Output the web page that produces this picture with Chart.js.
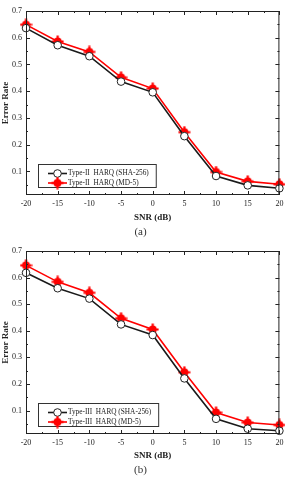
<!DOCTYPE html>
<html>
<head>
<meta charset="utf-8">
<script src="https://cdn.jsdelivr.net/npm/chart.js@4.4.0/dist/chart.umd.min.js"></script>
<style>
  body { margin: 0; background: #fff; }
  .box { position: absolute; left: 0; width: 285px; }
</style>
</head>
<body>
<div class="box" style="top:0;height:240px"><canvas id="chartA" width="285" height="240"></canvas></div>
<div class="box" style="top:240px;height:238px"><canvas id="chartB" width="285" height="238"></canvas></div>
<script>
// SNR (dB) on the x axis
var snr = [-20, -15, -10, -5, 0, 5, 10, 15, 20];
var yTicks = [0.1, 0.2, 0.3, 0.4, 0.5, 0.6, 0.7];
var xTicks = [-20, -15, -10, -5, 0, 5, 10, 15, 20];

// (a) Type-II
var labelsA = ['Type-II  HARQ (SHA-256)', 'Type-II  HARQ (MD-5)'];
var shaA = [0.636, 0.572, 0.531, 0.436, 0.396, 0.232, 0.083, 0.048, 0.037];
var md5A = [0.649, 0.586, 0.547, 0.452, 0.410, 0.247, 0.098, 0.063, 0.052];

// (b) Type-III
var labelsB = ['Type-III  HARQ (SHA-256)', 'Type-III  HARQ (MD-5)'];
var shaB = [0.618, 0.560, 0.521, 0.424, 0.384, 0.221, 0.069, 0.032, 0.024];
var md5B = [0.646, 0.584, 0.543, 0.447, 0.405, 0.244, 0.093, 0.055, 0.046];

var serif = '"Liberation Serif", "DejaVu Serif", serif';

// red marker: filled dot with short spikes
function redMarker() {
    var c = document.createElement('canvas');
    c.width = 13; c.height = 13;
    var g = c.getContext('2d');
    g.fillStyle = '#ff0000';
    g.strokeStyle = '#ff0000';
    g.beginPath();
    g.arc(6.5, 6.5, 4, 0, Math.PI * 2);
    g.fill();
    g.lineWidth = 2.2;
    g.beginPath();
    g.moveTo(6.5, 0.5); g.lineTo(6.5, 12.5);
    g.moveTo(0.5, 6.5); g.lineTo(12.5, 6.5);
    g.stroke();
    return c;
}
var redPt = redMarker();

var framePlugin = {
    id: 'frame',
    afterDatasetsDraw: function(chart) {
        var ctx = chart.ctx, a = chart.chartArea;
        var xs = chart.scales.x, ys = chart.scales.y;
        ctx.save();
        ctx.strokeStyle = '#222';
        ctx.lineWidth = 1;
        ctx.strokeRect(a.left + 0.5, a.top + 0.5, a.right - a.left - 1, a.bottom - a.top - 1);
        ctx.beginPath();
        // x ticks, major + minor, pointing in
        for (var v = -20; v <= 20; v += 2.5) {
            var px = Math.round(xs.getPixelForValue(v)) + 0.5;
            var len = (v % 5 === 0) ? 4 : 2;
            ctx.moveTo(px, a.bottom); ctx.lineTo(px, a.bottom - len);
            ctx.moveTo(px, a.top); ctx.lineTo(px, a.top + len);
        }
        for (var k = 1; k <= 14; k++) {
            var val = k * 0.05;
            var py = Math.round(ys.getPixelForValue(val)) + 0.5;
            var l2 = (k % 2 === 0) ? 4 : 2;
            ctx.moveTo(a.left, py); ctx.lineTo(a.left + l2, py);
            ctx.moveTo(a.right, py); ctx.lineTo(a.right - l2, py);
        }
        ctx.stroke();

        // legend inside the plot, lower left
        var ds = chart.data.datasets;
        ctx.font = '7.3px ' + serif;
        var w = 0;
        ds.forEach(function(d) { w = Math.max(w, ctx.measureText(d.label).width); });
        var bx = a.left + 12, by = a.bottom - 31, bw = w + 37, bh = 23;
        ctx.fillStyle = '#fff';
        ctx.fillRect(bx, by, bw, bh);
        ctx.strokeStyle = '#333';
        ctx.strokeRect(bx + 0.5, by + 0.5, bw, bh);
        ds.forEach(function(d, i) {
            var yy = by + 9.5 + i * 9.5;
            ctx.strokeStyle = d.borderColor;
            ctx.lineWidth = 1.6;
            ctx.beginPath();
            ctx.moveTo(bx + 10, yy); ctx.lineTo(bx + 29, yy);
            ctx.stroke();
            if (i === 0) {
                ctx.fillStyle = '#fff';
                ctx.strokeStyle = '#222';
                ctx.lineWidth = 1;
                ctx.beginPath();
                ctx.arc(bx + 19.5, yy, 3.8, 0, Math.PI * 2);
                ctx.fill(); ctx.stroke();
            } else {
                ctx.drawImage(redPt, bx + 13, yy - 6.5);
            }
            ctx.fillStyle = '#222';
            ctx.textBaseline = 'middle';
            ctx.fillText(d.label, bx + 30, yy);
        });
        ctx.restore();
    }
};

function makeChart(id, labels, sha, md5, caption, h, plotBottom) {
    var ctx = document.getElementById(id);
    return new Chart(ctx, {
        type: 'line',
        data: {
            labels: snr,
            datasets: [{
                label: labels[0],
                data: sha.map(function(v, i) { return {x: snr[i], y: v}; }),
                borderColor: '#1a1a1a',
                borderWidth: 1.6,
                pointStyle: 'circle',
                pointRadius: 3.8,
                pointBackgroundColor: '#fff',
                pointBorderColor: '#222',
                pointBorderWidth: 1,
                clip: false
            }, {
                label: labels[1],
                data: md5.map(function(v, i) { return {x: snr[i], y: v}; }),
                borderColor: '#ff0000',
                borderWidth: 1.6,
                pointStyle: redPt,
                clip: false
            }]
        },
        options: {
            responsive: false,
            animation: false,
            layout: { padding: { top: 11, right: 4, left: 0, bottom: 0 } },
            plugins: {
                legend: { display: false },
                tooltip: { enabled: false },
                title: {
                    display: true, text: caption, position: 'bottom',
                    color: '#333', font: { family: serif, size: 11, weight: 'normal', lineHeight: 1.2 },
                    padding: { top: 0, bottom: 1 }
                }
            },
            scales: {
                x: {
                    type: 'linear', min: -20, max: 20,
                    afterBuildTicks: function(s) { s.ticks = xTicks.map(function(v) { return {value: v}; }); },
                    afterFit: function(s) {
                        s.height = h - 14.2 - plotBottom;
                        s.paddingLeft = 0; s.paddingRight = 0;
                    },
                    grid: { display: false, drawTicks: false },
                    border: { display: false },
                    ticks: { color: '#222', font: { family: serif, size: 8 }, padding: 4, maxRotation: 0 },
                    title: { display: true, text: 'SNR (dB)', color: '#222', font: { family: serif, size: 9, weight: 'bold' }, padding: { top: 0, bottom: 3 } }
                },
                y: {
                    min: 0.012, max: 0.7,
                    afterBuildTicks: function(s) { s.ticks = yTicks.map(function(v) { return {value: v}; }); },
                    afterFit: function(s) {
                        s.width = 26;
                        s.paddingTop = 0; s.paddingBottom = 0;
                    },
                    grid: { display: false, drawTicks: false },
                    border: { display: false },
                    ticks: { color: '#222', font: { family: serif, size: 8 }, padding: 4 },
                    title: { display: true, text: 'Error Rate', color: '#222', font: { family: serif, size: 9, weight: 'bold' }, padding: 0 }
                }
            }
        },
        plugins: [framePlugin]
    });
}

makeChart('chartA', labelsA, shaA, md5A, '(a)', 240, 195);
makeChart('chartB', labelsB, shaB, md5B, '(b)', 238, 194);
</script>
</body>
</html>
